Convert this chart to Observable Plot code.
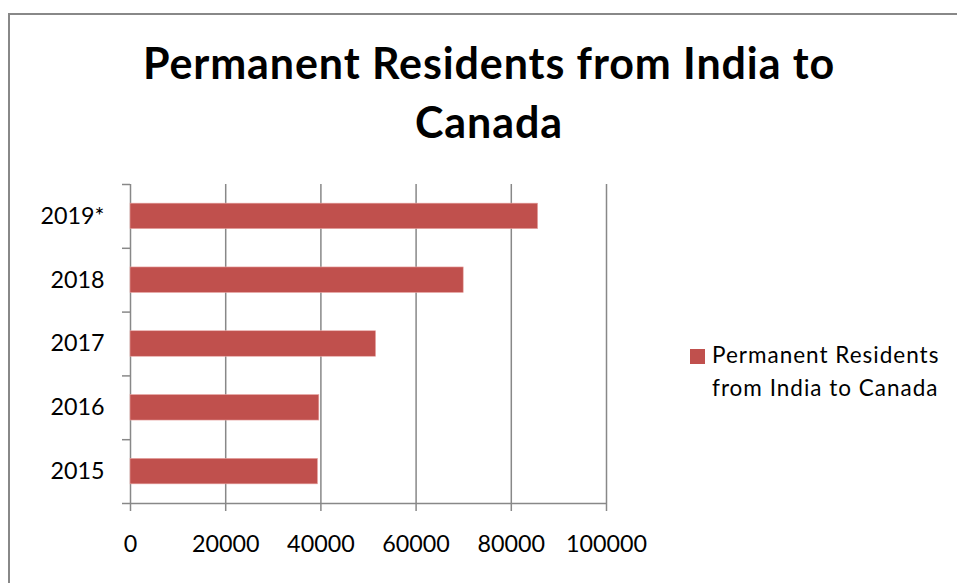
<!DOCTYPE html>
<html>
<head>
<meta charset="utf-8">
<script src="https://cdn.jsdelivr.net/npm/d3@7"></script>
<script src="https://cdn.jsdelivr.net/npm/@observablehq/plot@0.6"></script>
<style>
  html, body { margin: 0; padding: 0; background: #fff; overflow: hidden; }
  #wrap { position: relative; width: 957px; height: 583px; overflow: hidden; background: #fff; }
  #frame { position: absolute; left: 8px; top: 13px; width: 3000px; height: 3000px; border-left: 2px solid #888; border-top: 2px solid #888; box-sizing: border-box; }
  #title { position: absolute; left: 0; top: 33px; width: 978px; text-align: center; font-family: Lato, sans-serif; font-weight: bold; font-size: 43px; letter-spacing: 0.9px; line-height: 59px; color: #000; }
  #chart { position: absolute; left: 0; top: 0; }
  #legend { position: absolute; left: 690px; top: 338px; font-family: Lato, sans-serif; font-size: 22.5px; letter-spacing: 1px; line-height: 33.4px; color: #000; }
  #legend .sw { position: absolute; left: 0; top: 11px; width: 15px; height: 15px; background: #C0504D; }
  #legend .lb { position: absolute; left: 22px; top: 0; white-space: nowrap; }
</style>
</head>
<body>
<div id="wrap">
  <div id="frame"></div>
  <div id="title">Permanent Residents from India to<br>Canada</div>
  <div id="chart"></div>
  <div id="legend"><div class="sw"></div><div class="lb">Permanent Residents<br>from India to Canada</div></div>
</div>
<script>
const years = ["2015", "2016", "2017", "2018", "2019*"];
const values = [39390, 39670, 51590, 70000, 85640];
const xTicks = [0, 20000, 40000, 60000, 80000, 100000];
const seriesName = "Permanent Residents from India to Canada";
const barColor = "#C0504D";

const data = years.map((year, i) => ({year, i, value: values[i]}));
const bounds = d3.range(years.length + 1);
const centers = years.map((_, i) => i + 0.5);

const chart = Plot.plot({
  width: 957,
  height: 583,
  marginLeft: 130,
  marginRight: 351,
  marginTop: 184,
  marginBottom: 80,
  style: {fontFamily: "Lato, sans-serif", fontSize: "23.3px", color: "#000", background: "transparent", overflow: "visible"},
  x: {domain: [0, 100000]},
  y: {domain: [0, years.length]},
  marks: [
    Plot.ruleX(xTicks, {y1: 0, y2: years.length, stroke: "#888", strokeWidth: 1.5}),
    Plot.rectX(data, {x1: 0, x2: "value", y1: d => d.i + 0.3, y2: d => d.i + 0.7, fill: barColor, stroke: "#e8a8a6", strokeWidth: 0.6, title: d => `${seriesName}: ${d.value}`}),
    Plot.ruleY([0], {stroke: "#888", strokeWidth: 1.5}),
    Plot.axisX({ticks: xTicks, tickSize: 8, tickPadding: 24, tickFormat: d => String(d), stroke: "#888", strokeWidth: 1.5, fill: "#000", label: null}),
    Plot.axisY({ticks: bounds, tickSize: 8, tickFormat: () => "", stroke: "#888", strokeWidth: 1.5, label: null}),
    Plot.axisY({ticks: centers, tickSize: 0, tickPadding: 26, tickFormat: v => years[Math.floor(v)], fill: "#000", label: null})
  ]
});
document.getElementById("chart").appendChild(chart);
</script>
</body>
</html>
